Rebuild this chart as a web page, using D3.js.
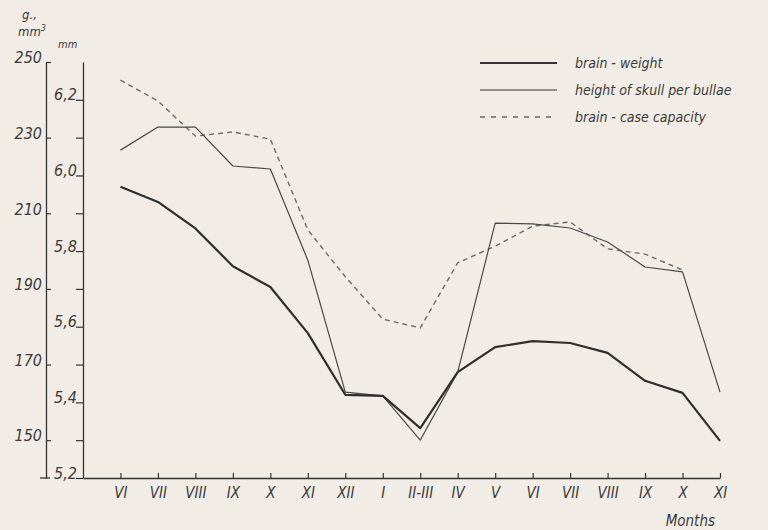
<html>
<head>
<meta charset="utf-8">
<script src="https://d3js.org/d3.v7.min.js"></script>
<style>
	body { margin: 0; background: #f1ede6; }
	svg { display: block; background: #f1ede6; }
	text { font-family: "DejaVu Sans Condensed", "DejaVu Sans", sans-serif; font-style: italic; fill: #3a3a3a; }
</style>
</head>
<body>
<svg id="svg" width="768" height="530">
	<g id="axes"/>
	<g id="lines"/>
	<g id="legend"/>
	<g id="labels"/>
</svg>
<script>
'use strict';

const width = 768;
const height = 530;

// months along the x axis (June of one year to November of the next)
const months = ['VI', 'VII', 'VIII', 'IX', 'X', 'XI', 'XII', 'I', 'II-III', 'IV', 'V', 'VI', 'VII', 'VIII', 'IX', 'X', 'XI'];

// brain weight, g (left axis)
const brain_weight = [217, 213, 206, 196, 190.5, 178.3, 162, 161.7, 153.2, 168, 174.6, 176.2, 175.7, 173.1, 165.7, 162.5, 149.8];

// height of skull per bullae, mm (right axis)
const skull_height = [6.067, 6.128, 6.128, 6.025, 6.017, 5.776, 5.427, 5.417, 5.30, 5.48, 5.874, 5.872, 5.861, 5.824, 5.758, 5.745, 5.427];

// brain-case capacity, mm3 (left axis) - no value for the last month
const brain_case = [245.2, 239.7, 230.4, 231.5, 229.6, 205.6, 193.2, 182, 179.7, 196.9, 201.3, 206.6, 207.7, 200.6, 199.2, 195.0, null];

const left_ticks = [150, 170, 190, 210, 230, 250];
const right_ticks = [5.2, 5.3, 5.4, 5.5, 5.6, 5.7, 5.8, 5.9, 6.0, 6.1, 6.2];

const legend_items = [
	{name: 'brain - weight', width: 2.2, dash: null},
	{name: 'height of skull  per bullae', width: 1.2, dash: null},
	{name: 'brain - case  capacity', width: 1.3, dash: '5,6'}
];

const x = d3.scaleLinear().domain([-1, months.length - 1]).range([83, 720]);
const y_g = d3.scaleLinear().domain([140, 250]).range([478, 62]);
const y_mm = d3.scaleLinear().domain([5.2, 6.3]).range([478, 62]);

const axes = d3.select('#axes');

// left axis, g / mm3
const left = axes.append('g')
	.attr('transform', `translate(46,0)`)
	.call(d3.axisLeft(y_g).tickValues(left_ticks).tickSizeInner(-5).tickSizeOuter(0).tickPadding(4));
left.select('.domain').attr('stroke', '#333').attr('stroke-width', 1.3);
left.selectAll('.tick line').attr('stroke', '#333').attr('stroke-width', 1.2);
left.selectAll('.tick text').attr('dy', '0.05em').style('font-size', '16px').attr('fill', '#3a3a3a');
axes.append('line')
	.attr('x1', 40).attr('x2', 50)
	.attr('y1', y_g(140)).attr('y2', y_g(140))
	.attr('stroke', '#333').attr('stroke-width', 1.3);

// right axis, mm
const right = axes.append('g')
	.attr('transform', `translate(83,0)`)
	.call(d3.axisLeft(y_mm).tickValues(right_ticks).tickSize(7).tickSizeOuter(0)
		.tickFormat(d => Math.round(d * 10) % 2 === 0 ? d3.format('.1f')(d).replace('.', ',') : ''));
right.select('.domain').attr('stroke', '#333').attr('stroke-width', 1.3);
right.selectAll('.tick line').attr('stroke', '#333').attr('stroke-width', 1.2);
right.selectAll('.tick text').attr('x', -6).attr('dy', '0em').style('font-size', '16px').attr('fill', '#3a3a3a');

// x axis
const bottom = axes.append('g')
	.attr('transform', `translate(0,478)`)
	.call(d3.axisBottom(x).tickValues(d3.range(months.length)).tickFormat(i => months[i])
		.tickSizeInner(-5).tickSizeOuter(0).tickPadding(9));
bottom.select('.domain').attr('stroke', '#333').attr('stroke-width', 1.3);
bottom.selectAll('.tick line').attr('stroke', '#333').attr('stroke-width', 1.2);
bottom.selectAll('.tick text').style('font-size', '15px').attr('fill', '#3a3a3a');
axes.selectAll('.tick text').style('font-family', '"DejaVu Sans Condensed", "DejaVu Sans", sans-serif').style('font-style', 'italic');

// series
const g_line = d3.line()
	.defined(d => d !== null)
	.x((d, i) => x(i))
	.y(d => y_g(d));
const mm_line = d3.line()
	.x((d, i) => x(i))
	.y(d => y_mm(d));

const lines = d3.select('#lines');
lines.append('path')
	.attr('d', g_line(brain_case))
	.attr('fill', 'none')
	.attr('stroke', '#6a6a6a')
	.attr('stroke-width', 1.4)
	.attr('stroke-dasharray', '5,4');
lines.append('path')
	.attr('d', mm_line(skull_height))
	.attr('fill', 'none')
	.attr('stroke', '#484848')
	.attr('stroke-width', 1.2)
	.attr('stroke-linejoin', 'round');
lines.append('path')
	.attr('d', g_line(brain_weight))
	.attr('fill', 'none')
	.attr('stroke', '#2e2e2e')
	.attr('stroke-width', 2.2)
	.attr('stroke-linejoin', 'round');

// legend
const legend = d3.select('#legend')
	.selectAll('g')
	.data(legend_items)
	.join('g')
	.attr('transform', (d, i) => `translate(480,${63 + i * 27})`);
legend.append('line')
	.attr('x1', 0).attr('x2', 77)
	.attr('stroke', d => d.dash ? '#666' : '#333')
	.attr('stroke-width', d => d.width)
	.attr('stroke-dasharray', d => d.dash);
legend.append('text')
	.attr('x', 95)
	.attr('y', 5)
	.style('font-size', '14px')
	.text(d => d.name);

// unit labels
const labels = d3.select('#labels');
labels.append('text').attr('x', 22).attr('y', 19).style('font-size', '13px').text('g.,');
const mm3 = labels.append('text').attr('x', 18).attr('y', 36).style('font-size', '13px');
mm3.append('tspan').text('mm');
mm3.append('tspan').attr('dy', -5).style('font-size', '9px').text('3');
labels.append('text').attr('x', 58).attr('y', 48).style('font-size', '11px').text('mm');
labels.append('text').attr('x', 715).attr('y', 526).attr('text-anchor', 'end').style('font-size', '15px').text('Months');
</script>
</body>
</html>
